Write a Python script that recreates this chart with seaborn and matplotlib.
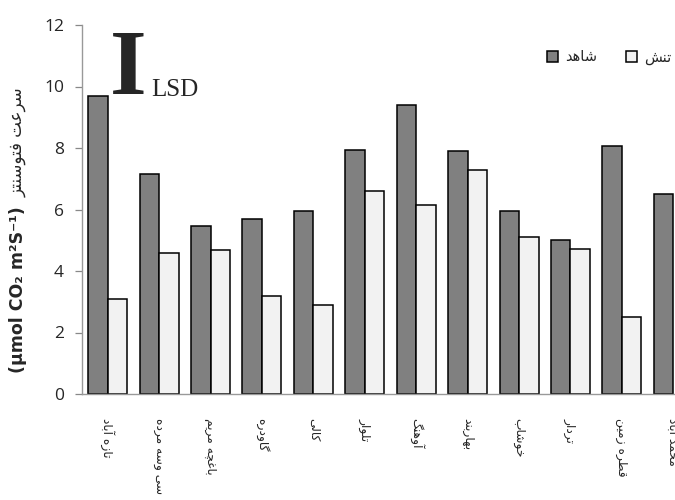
import numpy as np
import pandas as pd
import matplotlib
matplotlib.use("Agg")
import matplotlib.pyplot as plt
import seaborn as sns

# ---------------- data ----------------
sites = ["تازه آباد", "سی وسه مرده", "باغچه مریم", "گاودره", "کالی", "تلوار",
         "آوهنگ", "بهاربند", "خوشاب", "تردار", "قطره زمین", "محمد آباد"]
control = [9.7, 7.15, 5.45, 5.7, 5.95, 7.95, 9.4, 7.9, 5.95, 5.0, 8.05, 6.5]
stress = [3.1, 4.6, 4.68, 3.2, 2.9, 6.6, 6.15, 7.3, 5.1, 4.72, 2.5, np.nan]
treat_names = ["شاهد", "تنش"]
yticks = [0, 2, 4, 6, 8, 10, 12]
ylabel_fa = "سرعت فتوسنتز"
ylabel_en = "(µmol CO₂ m²S⁻¹)"

# ---------------- simple Persian shaping (presentation forms) ----------------
F = {
    "ا": ("\uFE8D", "\uFE8E"), "آ": ("\uFE81", "\uFE82"),
    "ب": ("\uFE8F", "\uFE90", "\uFE91", "\uFE92"), "پ": ("\uFB56", "\uFB57", "\uFB58", "\uFB59"),
    "ت": ("\uFE95", "\uFE96", "\uFE97", "\uFE98"), "ث": ("\uFE99", "\uFE9A", "\uFE9B", "\uFE9C"),
    "ج": ("\uFE9D", "\uFE9E", "\uFE9F", "\uFEA0"), "چ": ("\uFB7A", "\uFB7B", "\uFB7C", "\uFB7D"),
    "ح": ("\uFEA1", "\uFEA2", "\uFEA3", "\uFEA4"), "خ": ("\uFEA5", "\uFEA6", "\uFEA7", "\uFEA8"),
    "د": ("\uFEA9", "\uFEAA"), "ذ": ("\uFEAB", "\uFEAC"), "ر": ("\uFEAD", "\uFEAE"),
    "ز": ("\uFEAF", "\uFEB0"), "ژ": ("\uFB8A", "\uFB8B"),
    "س": ("\uFEB1", "\uFEB2", "\uFEB3", "\uFEB4"), "ش": ("\uFEB5", "\uFEB6", "\uFEB7", "\uFEB8"),
    "ص": ("\uFEB9", "\uFEBA", "\uFEBB", "\uFEBC"), "ض": ("\uFEBD", "\uFEBE", "\uFEBF", "\uFEC0"),
    "ط": ("\uFEC1", "\uFEC2", "\uFEC3", "\uFEC4"), "ظ": ("\uFEC5", "\uFEC6", "\uFEC7", "\uFEC8"),
    "ع": ("\uFEC9", "\uFECA", "\uFECB", "\uFECC"), "غ": ("\uFECD", "\uFECE", "\uFECF", "\uFED0"),
    "ف": ("\uFED1", "\uFED2", "\uFED3", "\uFED4"), "ق": ("\uFED5", "\uFED6", "\uFED7", "\uFED8"),
    "ک": ("\uFB8E", "\uFB8F", "\uFB90", "\uFB91"), "گ": ("\uFB92", "\uFB93", "\uFB94", "\uFB95"),
    "ل": ("\uFEDD", "\uFEDE", "\uFEDF", "\uFEE0"), "م": ("\uFEE1", "\uFEE2", "\uFEE3", "\uFEE4"),
    "ن": ("\uFEE5", "\uFEE6", "\uFEE7", "\uFEE8"), "و": ("\uFEED", "\uFEEE"),
    "ه": ("\uFEE9", "\uFEEA", "\uFEEB", "\uFEEC"), "ی": ("\uFBFC", "\uFBFD", "\uFBFE", "\uFBFF"),
}


def shape(s):
    out = []
    for i, c in enumerate(s):
        if c not in F:
            out.append(c)
            continue
        prev = s[i - 1] if i > 0 else None
        nxt = s[i + 1] if i + 1 < len(s) else None
        pj = prev in F and len(F[prev]) == 4
        nj = nxt in F
        f = F[c]
        if len(f) == 4:
            ch = f[3] if (pj and nj) else f[1] if pj else f[2] if nj else f[0]
        else:
            ch = f[1] if pj else f[0]
        out.append(ch)
    return "".join(out)[::-1]


# ---------------- table ----------------
df = pd.DataFrame({
    "site": sites * 2,
    "treat": [treat_names[0]] * len(sites) + [treat_names[1]] * len(sites),
    "value": list(control) + list(stress),
})

sns.set_theme(style="white")
plt.rcParams["font.family"] = ["DejaVu Sans"]

fig = plt.figure(figsize=(6.75, 5.0), dpi=100)
ax = fig.add_axes([82 / 675, 106 / 500, 617 / 675, 369 / 500])

sns.barplot(data=df, x="site", y="value", hue="treat", order=sites,
            hue_order=treat_names, palette=["#808080", "#f2f2f2"],
            width=0.76, gap=0, errorbar=None, edgecolor="black",
            linewidth=1.1, saturation=1, ax=ax, legend=True)

ax.set_ylim(0, 12)
ax.set_xlim(-0.5, len(sites) - 0.5)
ax.set_yticks(yticks)
ax.set_yticklabels([str(t) for t in yticks], fontfamily="Open Sans", fontsize=12.5)
ax.set_xticks(range(len(sites)))
ax.set_xticklabels([shape(s) for s in sites], rotation=-90, ha="center",
                   va="top", fontsize=8.8)
ax.tick_params(axis="x", length=0, pad=17)
ax.tick_params(axis="y", length=5, width=0.9, color="#888888", direction="out",
               pad=8, left=True)
ax.set_xlabel("")
ax.set_ylabel("")
for sp in ["top", "right"]:
    ax.spines[sp].set_visible(False)
for sp in ["left", "bottom"]:
    ax.spines[sp].set_color("#999999")
    ax.spines[sp].set_linewidth(1.0)

# legend
handles, labels = ax.get_legend_handles_labels()
ax.legend(handles, [shape(l) for l in treat_names], loc="center left",
          bbox_to_anchor=(541 / 675, 1 - 57 / 500), bbox_transform=fig.transFigure,
          ncol=2, frameon=False, fontsize=10.5, handlelength=0.75, handleheight=0.75,
          handletextpad=0.5, columnspacing=2.0, borderaxespad=0)

# y label (two parts)
fig.text(18 / 675, 1 - 373 / 500, ylabel_en, rotation=90, ha="center", va="bottom",
         fontsize=12.5, fontweight="bold", fontfamily="DejaVu Sans")
fig.text(18 / 675, 1 - 197 / 500, shape(ylabel_fa), rotation=90, ha="center",
         va="bottom", fontsize=12, fontfamily="DejaVu Sans")

# LSD marker
fig.text(128 / 675, 1 - 71 / 500, "I", ha="center", va="center", fontsize=68,
         fontweight="bold", fontfamily="Liberation Serif")
fig.text(151 / 675, 1 - 96 / 500, "LSD", ha="left", va="baseline", fontsize=18,
         fontfamily="Liberation Serif")

fig.savefig("out.png", dpi=100)
